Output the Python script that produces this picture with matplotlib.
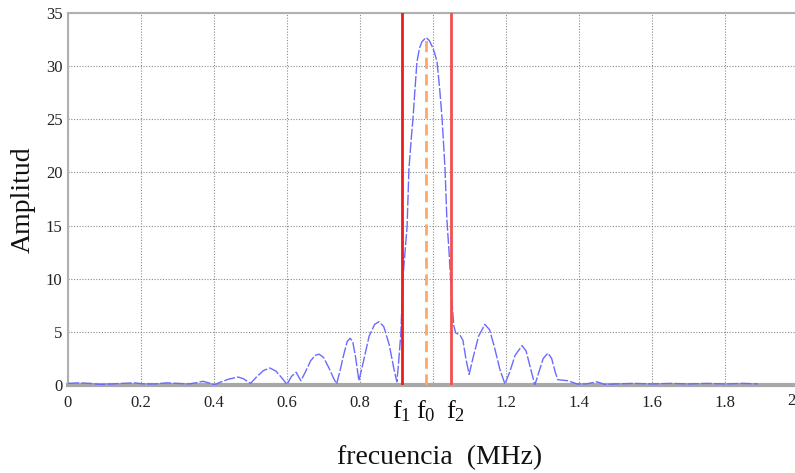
import numpy as np
import matplotlib
matplotlib.use("Agg")
import matplotlib.pyplot as plt

plt.rcParams['font.family'] = ['Liberation Serif', 'DejaVu Serif']
plt.rcParams['mathtext.fontset'] = 'custom'
plt.rcParams['mathtext.rm'] = 'Liberation Serif'
plt.rcParams['mathtext.it'] = 'Liberation Serif:italic'

# spectrum samples (MHz, amplitude)
freq = [0.00, 0.03, 0.06, 0.09, 0.12, 0.15, 0.18, 0.21, 0.24, 0.27,
        0.30, 0.33, 0.35, 0.37, 0.39, 0.40, 0.42, 0.44, 0.466, 0.48,
        0.50, 0.515, 0.535, 0.553, 0.57, 0.585, 0.60, 0.612, 0.625, 0.638,
        0.65, 0.665, 0.678, 0.688, 0.70, 0.715, 0.728, 0.736, 0.745, 0.755,
        0.765, 0.773, 0.780, 0.788, 0.797, 0.81, 0.825, 0.84, 0.852, 0.865,
        0.88, 0.893, 0.901, 0.905, 0.912, 0.918, 0.924, 0.929, 0.934, 0.940,
        0.945, 0.951, 0.956, 0.963, 0.970, 0.981, 0.990, 0.997, 1.004, 1.011,
        1.018, 1.025, 1.033, 1.038, 1.044, 1.049, 1.052, 1.057, 1.062, 1.074,
        1.082, 1.090, 1.099, 1.11, 1.125, 1.142, 1.155, 1.168, 1.183, 1.197,
        1.21, 1.225, 1.244, 1.255, 1.267, 1.279, 1.29, 1.302, 1.315, 1.325,
        1.335, 1.342, 1.370, 1.394, 1.42, 1.449, 1.471, 1.50, 1.55, 1.60,
        1.65, 1.70, 1.75, 1.80, 1.85, 1.89]
amp = [0.15, 0.2, 0.15, 0.05, 0.1, 0.15, 0.2, 0.1, 0.1, 0.2,
       0.15, 0.1, 0.2, 0.35, 0.15, 0.0, 0.3, 0.55, 0.75, 0.6,
       0.15, 0.7, 1.35, 1.6, 1.3, 0.7, 0.05, 0.8, 1.2, 0.4,
       1.2, 2.3, 2.8, 2.9, 2.6, 1.6, 0.6, 0.1, 1.3, 2.8,
       4.1, 4.4, 4.1, 2.6, 0.4, 2.3, 4.6, 5.7, 5.95, 5.5,
       3.8, 1.5, 0.3, 1.8, 4.9, 10.2, 12.8, 14.9, 20.3, 23.0,
       25.0, 28.0, 30.4, 31.7, 32.3, 32.7, 32.4, 31.9, 31.3, 30.4,
       28.0, 25.0, 20.3, 15.6, 12.5, 9.5, 7.8, 5.6, 4.9, 4.7,
       4.2, 2.5, 1.0, 2.6, 4.6, 5.7, 5.2, 3.6, 1.5, 0.1,
       1.2, 2.8, 3.7, 3.2, 1.6, 0.0, 1.2, 2.5, 3.0, 2.5,
       1.2, 0.5, 0.4, 0.1, 0.1, 0.3, 0.05, 0.1, 0.15, 0.1,
       0.15, 0.1, 0.15, 0.1, 0.15, 0.1]

f1 = 0.915
f0 = 0.981
f2 = 1.049
peak = 32.7

xticks = [0, 0.2, 0.4, 0.6, 0.8, 1.0, 1.2, 1.4, 1.6, 1.8, 2.0]
xtick_labels = ['0', '0.2', '0.4', '0.6', '0.8', '', '1.2', '1.4', '1.6', '1.8', '']
yticks = [0, 5, 10, 15, 20, 25, 30, 35]

fig = plt.figure(figsize=(7.95, 4.73), dpi=100)
ax = fig.add_axes([68 / 795, 88 / 473, 730 / 795, 372 / 473])

ax.plot(freq, amp, color='#6a6aff', linewidth=1.0, linestyle=(0, (8, 1.5)), zorder=3)
ax.axvline(f1, color='#ee1c1c', linewidth=2.0, zorder=4)
ax.axvline(f2, color='#f25050', linewidth=2.0, zorder=4)
ax.vlines(f0, 0, peak, color='#ffa866', linewidth=2.0, linestyle=(0, (4, 2)), zorder=4)

ax.set_xlim(0, 2.0)
ax.set_ylim(0, 35)
ax.set_xticks(xticks, labels=xtick_labels)
ax.set_yticks(yticks, labels=[str(t) for t in yticks])
ax.tick_params(axis='both', length=0, labelsize=12, colors='#222222')
ax.tick_params(axis='x', pad=7)
ax.tick_params(axis='y', pad=4)

ax.grid(True, color='#8c8c8c', linestyle=(0, (1, 1.5)), linewidth=0.8)
ax.set_axisbelow(True)

for side in ['left', 'top', 'right']:
    ax.spines[side].set_color('#b0b0b0')
    ax.spines[side].set_linewidth(1.5)
ax.spines['bottom'].set_color('#a8a8a8')
ax.spines['bottom'].set_linewidth(3.0)

# last x tick label sits at the right edge of the figure
fig.text(1.0, 1 - 401 / 473, '2', ha='right', va='center', fontsize=12, color='#222222')

# frequency markers below the axis
for xv, name in [(f1, r'$\mathrm{f}_1$'), (f0, r'$\mathrm{f}_0$'), (f2 + 0.012, r'$\mathrm{f}_2$')]:
    ax.text(xv, -0.091, name, transform=ax.get_xaxis_transform(),
            ha='center', va='baseline', fontsize=19, color='#111111')

fig.text(23 / 795, 1 - 200 / 473, 'Amplitud', rotation=90, ha='center', va='center',
         fontsize=20, color='#111111')
fig.text(440 / 795, 1 - 458 / 473, 'frecuencia  (MHz)', ha='center', va='center',
         fontsize=20, color='#111111')

fig.savefig('out.png', dpi=100)
